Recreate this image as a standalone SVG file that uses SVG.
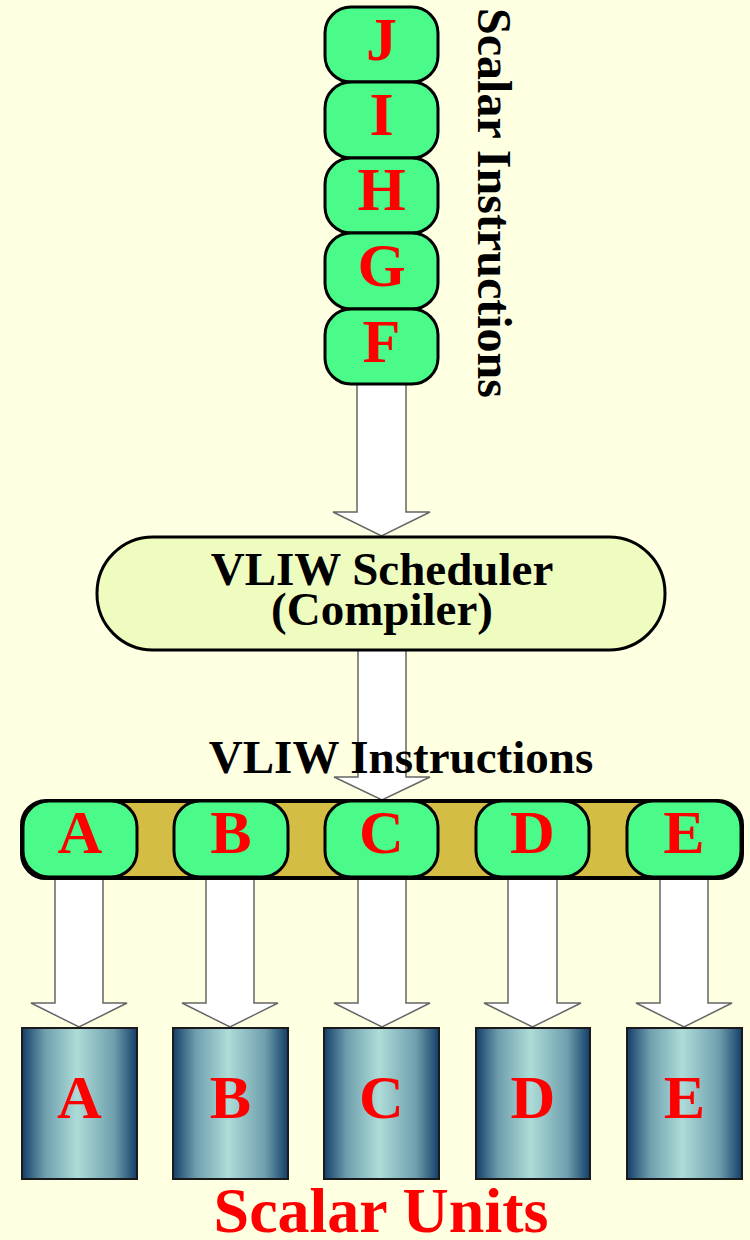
<svg xmlns="http://www.w3.org/2000/svg" width="750" height="1240" viewBox="0 0 750 1240">
<defs>
<style>
.bg{fill:#ffffe1}
.g{fill:#4afb89;stroke:#000;stroke-width:3}
.lt{font-family:"Liberation Serif","Times New Roman",serif;font-weight:bold;fill:#ff0000;text-anchor:middle}
.bt{font-family:"Liberation Serif","Times New Roman",serif;font-weight:bold;fill:#000;text-anchor:middle}
.arr{fill:#fff;stroke:#666;stroke-width:1.5;stroke-linejoin:miter}
.unit{fill:url(#cyl);stroke:#1a1a1a;stroke-width:2}
</style>
<linearGradient id="cyl" x1="0" y1="0" x2="1" y2="0">
<stop offset="0" stop-color="#143e68"/>
<stop offset="0.2" stop-color="#6f9fae"/>
<stop offset="0.48" stop-color="#aedcd8"/>
<stop offset="0.8" stop-color="#6f9fae"/>
<stop offset="1" stop-color="#143e68"/>
</linearGradient>
</defs>
<rect class="bg" x="0" y="0" width="750" height="1240"/>

<g id="connectors">
<polygon class="arr" points="357,380 406,380 406,512 430,512 381.5,536 333,512 357,512"/>
<polygon class="arr" points="358,650 406,650 406,777 430,777 382,800 334,777 358,777"/>
<polygon class="arr" points="55,876 103,876 103,1003 127,1003 79,1027 31,1003 55,1003"/>
<polygon class="arr" points="206,876 254,876 254,1003 278,1003 230,1027 182,1003 206,1003"/>
<polygon class="arr" points="358,876 406,876 406,1003 430,1003 382,1027 334,1003 358,1003"/>
<polygon class="arr" points="508,876 557,876 557,1003 581,1003 532.5,1027 484,1003 508,1003"/>
<polygon class="arr" points="660,876 708,876 708,1003 732,1003 684,1027 636,1003 660,1003"/>
</g>

<g id="scalar-instructions">
<g id="instr-J"><rect class="g" x="325" y="7" width="113" height="75" rx="26"/><text class="lt" x="381.5" y="60" font-size="62">J</text></g>
<g id="instr-I"><rect class="g" x="325" y="82" width="113" height="76" rx="26"/><text class="lt" x="381.5" y="135" font-size="62">I</text></g>
<g id="instr-H"><rect class="g" x="325" y="158" width="113" height="75" rx="26"/><text class="lt" x="381.5" y="210" font-size="62">H</text></g>
<g id="instr-G"><rect class="g" x="325" y="233" width="113" height="76" rx="26"/><text class="lt" x="381.5" y="286" font-size="62">G</text></g>
<g id="instr-F"><rect class="g" x="325" y="309" width="113" height="75" rx="26"/><text class="lt" x="381.5" y="362" font-size="62">F</text></g>
<text id="label-scalar-instructions" class="bt" font-size="48" transform="translate(478,203) rotate(90)" x="0" y="0">Scalar Instructions</text>
</g>

<g id="scheduler">
<rect x="97" y="537" width="568" height="113" rx="56" fill="#effcc0" stroke="#000" stroke-width="3"/>
<text class="bt" x="382" y="585" font-size="47">VLIW Scheduler</text>
<text class="bt" x="382" y="625" font-size="47">(Compiler)</text>
</g>

<text id="label-vliw-instructions" class="bt" x="401" y="773" font-size="47">VLIW Instructions</text>

<g id="vliw-word">
<rect x="22" y="801" width="720" height="77" rx="24" fill="#d4bd45" stroke="#000" stroke-width="4"/>
<g id="slot-A"><rect class="g" x="23" y="801" width="114" height="76" rx="26"/><text class="lt" x="80" y="853" font-size="62">A</text></g>
<g id="slot-B"><rect class="g" x="174" y="801" width="114" height="76" rx="26"/><text class="lt" x="231" y="853" font-size="62">B</text></g>
<g id="slot-C"><rect class="g" x="325" y="801" width="113" height="76" rx="26"/><text class="lt" x="381.5" y="853" font-size="62">C</text></g>
<g id="slot-D"><rect class="g" x="476" y="801" width="113" height="76" rx="26"/><text class="lt" x="532.5" y="853" font-size="62">D</text></g>
<g id="slot-E"><rect class="g" x="627" y="801" width="114" height="76" rx="26"/><text class="lt" x="684" y="853" font-size="62">E</text></g>
</g>

<g id="units">
<g id="unit-A"><rect class="unit" x="22" y="1028" width="115" height="151"/><text class="lt" x="79.5" y="1118" font-size="62">A</text></g>
<g id="unit-B"><rect class="unit" x="173" y="1028" width="115" height="151"/><text class="lt" x="230.5" y="1118" font-size="62">B</text></g>
<g id="unit-C"><rect class="unit" x="324" y="1028" width="115" height="151"/><text class="lt" x="381.5" y="1118" font-size="62">C</text></g>
<g id="unit-D"><rect class="unit" x="476" y="1028" width="114" height="151"/><text class="lt" x="533" y="1118" font-size="62">D</text></g>
<g id="unit-E"><rect class="unit" x="627" y="1028" width="115" height="151"/><text class="lt" x="684.5" y="1118" font-size="62">E</text></g>
<text id="label-scalar-units" class="lt" x="381" y="1232" font-size="64">Scalar Units</text>
</g>
</svg>
